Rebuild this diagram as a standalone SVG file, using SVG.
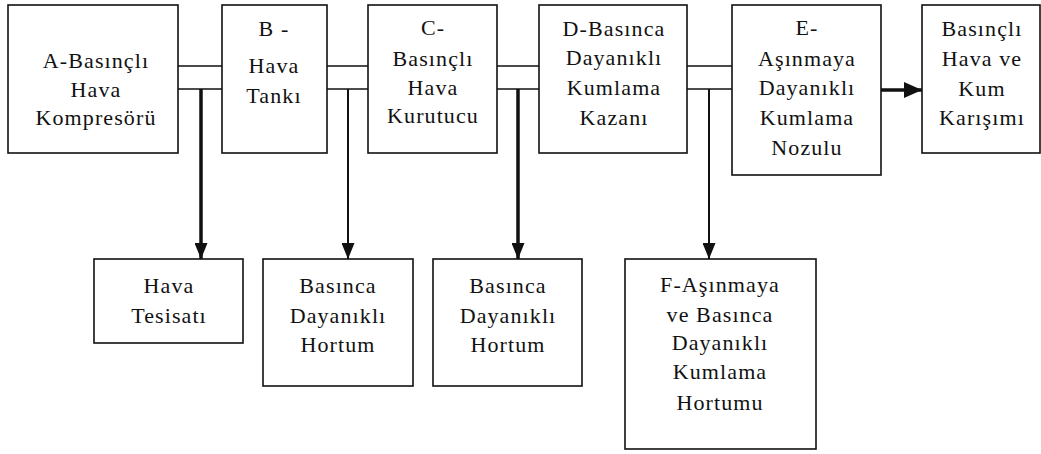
<svg xmlns="http://www.w3.org/2000/svg" width="1041" height="454" viewBox="0 0 1041 454">
<style>
.box{fill:#fff;stroke:#111;stroke-width:1.6}
.t{font-family:"Liberation Serif","Times New Roman",serif;font-size:22px;letter-spacing:1.1px;fill:#111;text-anchor:middle}
.pipe{stroke:#111;stroke-width:1.6;fill:none}
.thick{stroke:#111;stroke-width:3.5;fill:none}
.thin{stroke:#111;stroke-width:2;fill:none}
</style>
<defs>
<marker id="ah" markerUnits="userSpaceOnUse" markerWidth="16" markerHeight="13" refX="16" refY="6.5" orient="auto">
<path d="M0,0 L16,6.5 L0,13 Z" fill="#111"/>
</marker>
<marker id="ah2" markerUnits="userSpaceOnUse" markerWidth="18" markerHeight="16" refX="18" refY="8" orient="auto">
<path d="M0,0 L18,8 L0,16 Z" fill="#111"/>
</marker>
</defs>
<rect width="1041" height="454" fill="#fff"/>
<g id="connectors">
<line class="pipe" x1="178" y1="66" x2="222" y2="66"/>
<line class="pipe" x1="178" y1="89" x2="222" y2="89"/>
<line class="pipe" x1="327" y1="66" x2="368" y2="66"/>
<line class="pipe" x1="327" y1="89" x2="368" y2="89"/>
<line class="pipe" x1="497" y1="66" x2="539" y2="66"/>
<line class="pipe" x1="497" y1="89" x2="539" y2="89"/>
<line class="pipe" x1="687" y1="66" x2="732" y2="66"/>
<line class="pipe" x1="687" y1="89" x2="732" y2="89"/>
<line class="thick" x1="201" y1="89" x2="201" y2="259" marker-end="url(#ah)"/>
<line class="thin" x1="348" y1="89" x2="348" y2="259" marker-end="url(#ah)"/>
<line class="thick" x1="518" y1="89" x2="518" y2="259" marker-end="url(#ah)"/>
<line class="thin" x1="709" y1="89" x2="709" y2="259" marker-end="url(#ah)"/>
<line class="thick" x1="881" y1="90" x2="922" y2="90" marker-end="url(#ah2)"/>
</g>
<g id="nodeA">
<rect class="box" x="8" y="5" width="170" height="148"/>
<text class="t" x="96" y="68">A-Basınçlı</text>
<text class="t" x="96" y="97">Hava</text>
<text class="t" x="96" y="125">Kompresörü</text>
</g>
<g id="nodeB">
<rect class="box" x="222" y="5" width="105" height="148"/>
<text class="t" x="274" y="36">B -</text>
<text class="t" x="274" y="73">Hava</text>
<text class="t" x="274" y="103">Tankı</text>
</g>
<g id="nodeC">
<rect class="box" x="368" y="5" width="129" height="148"/>
<text class="t" x="433" y="35">C-</text>
<text class="t" x="433" y="66">Basınçlı</text>
<text class="t" x="433" y="95">Hava</text>
<text class="t" x="433" y="123">Kurutucu</text>
</g>
<g id="nodeD">
<rect class="box" x="539" y="5" width="148" height="148"/>
<text class="t" x="614" y="36">D-Basınca</text>
<text class="t" x="614" y="65">Dayanıklı</text>
<text class="t" x="614" y="95">Kumlama</text>
<text class="t" x="614" y="125">Kazanı</text>
</g>
<g id="nodeE">
<rect class="box" x="732" y="5" width="149" height="170"/>
<text class="t" x="807" y="35">E-</text>
<text class="t" x="807" y="66">Aşınmaya</text>
<text class="t" x="807" y="95">Dayanıklı</text>
<text class="t" x="807" y="125">Kumlama</text>
<text class="t" x="807" y="155">Nozulu</text>
</g>
<g id="nodeMix">
<rect class="box" x="922" y="5" width="118" height="148"/>
<text class="t" x="982" y="36">Basınçlı</text>
<text class="t" x="982" y="66">Hava ve</text>
<text class="t" x="982" y="96">Kum</text>
<text class="t" x="982" y="125">Karışımı</text>
</g>
<g id="nodeTesisat">
<rect class="box" x="94" y="259" width="149" height="84"/>
<text class="t" x="169" y="293">Hava</text>
<text class="t" x="169" y="323">Tesisatı</text>
</g>
<g id="nodeHortum1">
<rect class="box" x="263" y="259" width="150" height="127"/>
<text class="t" x="338" y="293">Basınca</text>
<text class="t" x="338" y="323">Dayanıklı</text>
<text class="t" x="338" y="352">Hortum</text>
</g>
<g id="nodeHortum2">
<rect class="box" x="433" y="259" width="149" height="127"/>
<text class="t" x="508" y="293">Basınca</text>
<text class="t" x="508" y="323">Dayanıklı</text>
<text class="t" x="508" y="352">Hortum</text>
</g>
<g id="nodeF">
<rect class="box" x="625" y="259" width="191" height="190"/>
<text class="t" x="720" y="292">F-Aşınmaya</text>
<text class="t" x="720" y="322">ve Basınca</text>
<text class="t" x="720" y="350">Dayanıklı</text>
<text class="t" x="720" y="379">Kumlama</text>
<text class="t" x="720" y="410">Hortumu</text>
</g>
</svg>
